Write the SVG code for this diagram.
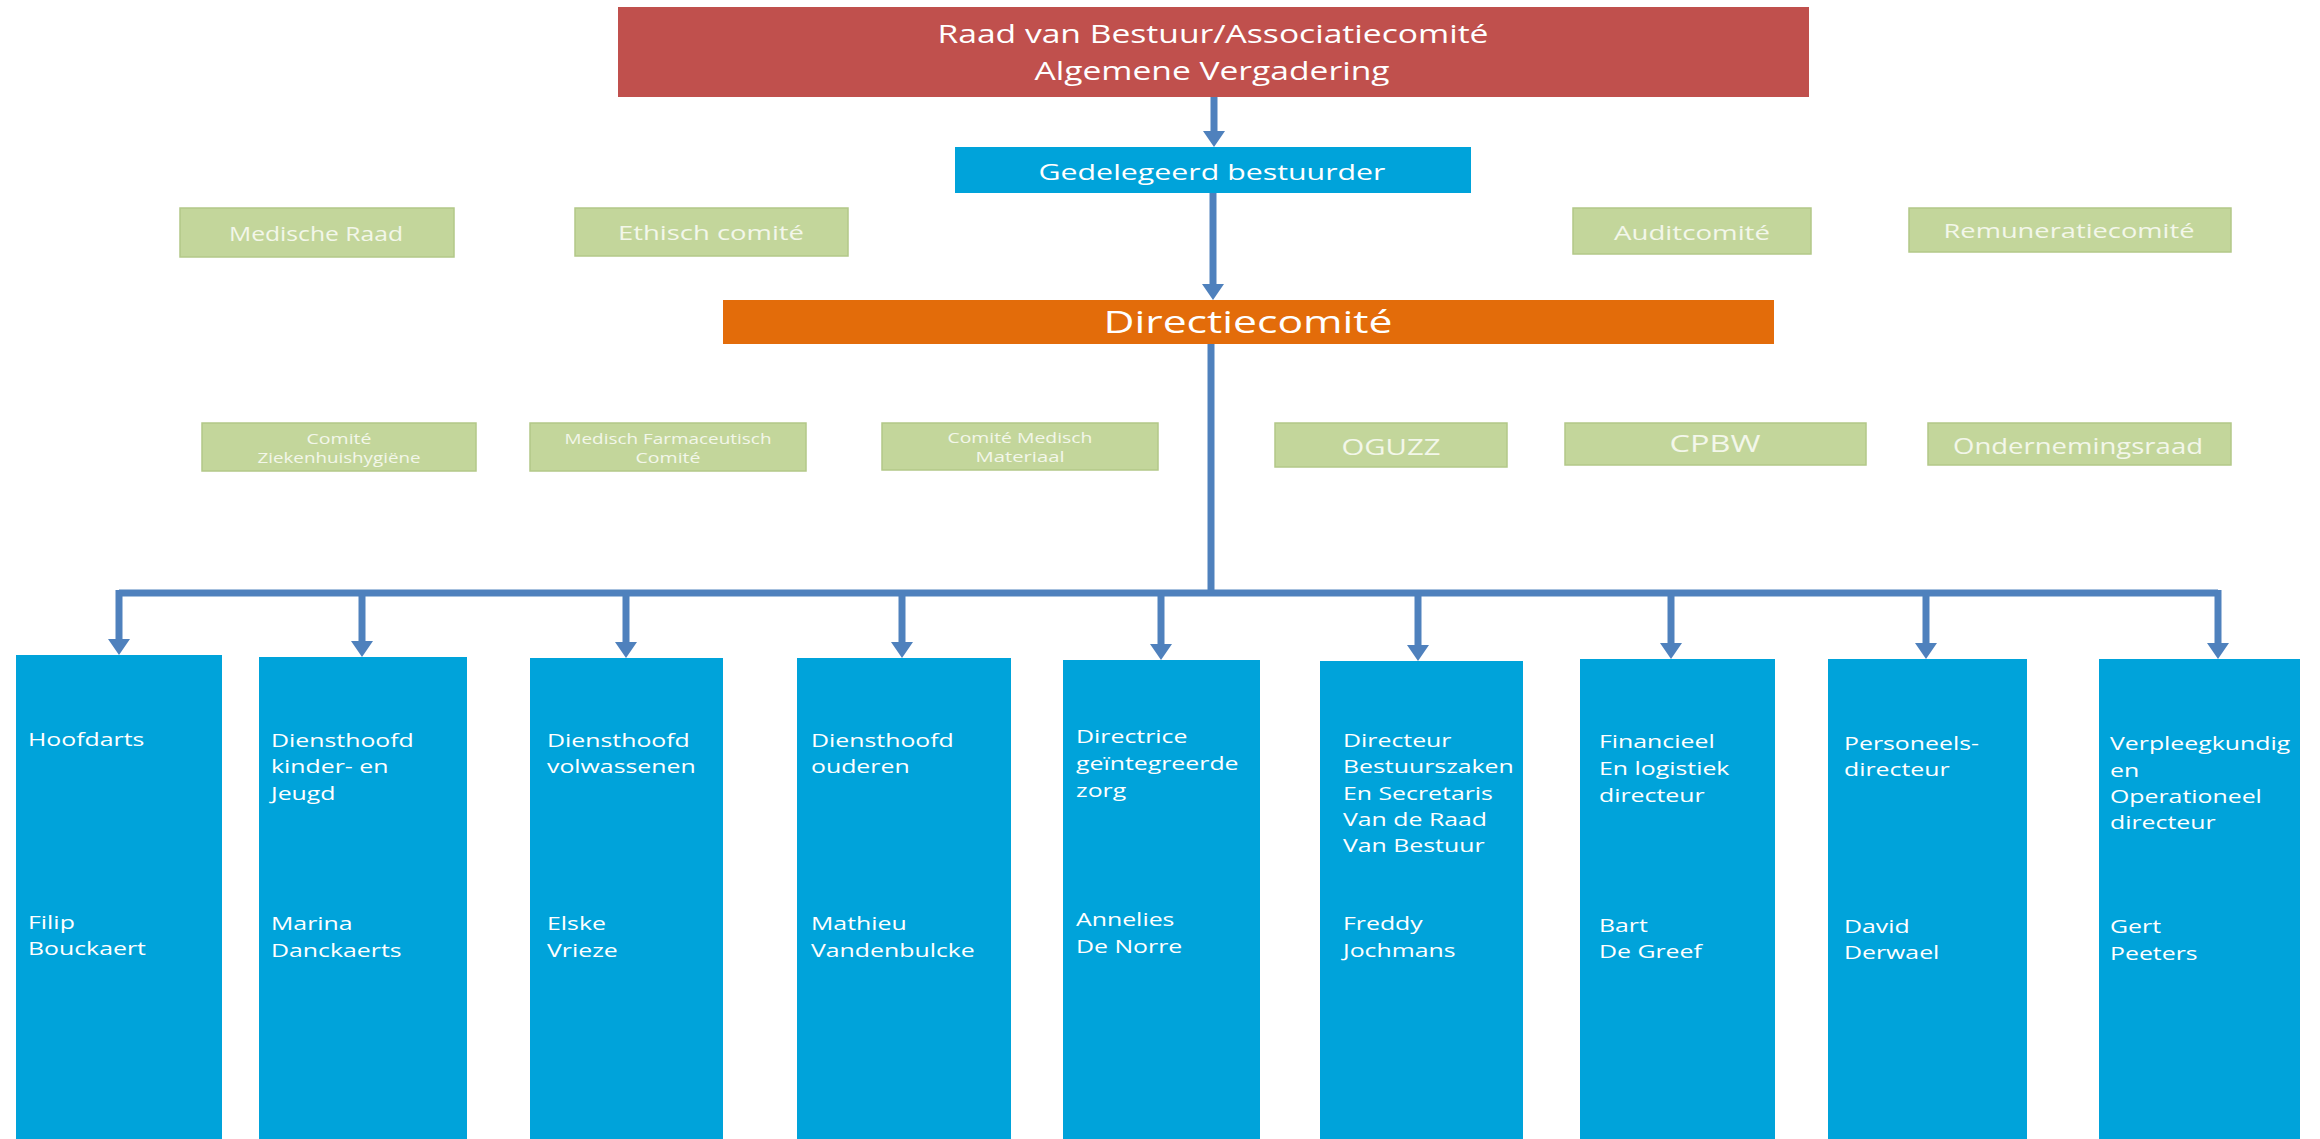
<svg xmlns="http://www.w3.org/2000/svg" width="2320" height="1139" viewBox="0 0 2320 1139">
<style>
  text { font-family: "Open Sans", "Liberation Sans", sans-serif; fill: #ffffff; }
  .red { fill: #C0504D; }
  .blue { fill: #00A3DA; }
  .orange { fill: #E36C0A; }
  .green { fill: #C3D69B; stroke: #B3C888; stroke-width: 1.5; }
  .gtxt { fill: #F3F7EA; text-anchor: middle; }
  .c { text-anchor: middle; }
  .conn { stroke: #4F81BD; stroke-width: 7; fill: none; }
  .btxt { font-size: 18px; }
</style>
<defs>
  <marker id="ah" viewBox="0 0 16 22" refX="0" refY="11" markerWidth="16" markerHeight="22" markerUnits="userSpaceOnUse" orient="auto">
    <path d="M0,0 L16,11 L0,22 z" fill="#4F81BD"/>
  </marker>
</defs>
<rect width="2320" height="1139" fill="#ffffff"/>

<g id="connectors">
  <path class="conn" d="M1214,97 V131" marker-end="url(#ah)"/>
  <path class="conn" d="M1213,193 V284" marker-end="url(#ah)"/>
  <path class="conn" d="M1211,344 V593"/>
  <path class="conn" d="M119,593 H2218"/>
  <path class="conn" d="M119,590 V639" marker-end="url(#ah)"/>
  <path class="conn" d="M362,593 V641" marker-end="url(#ah)"/>
  <path class="conn" d="M626,593 V642" marker-end="url(#ah)"/>
  <path class="conn" d="M902,593 V642" marker-end="url(#ah)"/>
  <path class="conn" d="M1161,593 V644" marker-end="url(#ah)"/>
  <path class="conn" d="M1418,593 V645" marker-end="url(#ah)"/>
  <path class="conn" d="M1671,593 V643" marker-end="url(#ah)"/>
  <path class="conn" d="M1926,593 V643" marker-end="url(#ah)"/>
  <path class="conn" d="M2218,590 V643" marker-end="url(#ah)"/>
</g>

<g id="raad">
  <rect class="red" x="618" y="7" width="1191" height="90"/>
  <text class="c" x="1213" y="43" font-size="25" textLength="551" lengthAdjust="spacingAndGlyphs">Raad van Bestuur/Associatiecomité</text>
  <text class="c" x="1212" y="80" font-size="25" textLength="355" lengthAdjust="spacingAndGlyphs">Algemene Vergadering</text>
</g>

<g id="gedelegeerd">
  <rect class="blue" x="955" y="147" width="516" height="46"/>
  <text class="c" x="1212" y="180" font-size="22" textLength="347" lengthAdjust="spacingAndGlyphs">Gedelegeerd bestuurder</text>
</g>

<g id="directiecomite">
  <rect class="orange" x="723" y="300" width="1051" height="44"/>
  <text class="c" x="1248" y="333" font-size="31" textLength="289" lengthAdjust="spacingAndGlyphs">Directiecomité</text>
</g>

<g id="medische-raad">
  <rect class="green" x="180" y="208" width="274" height="49"/>
  <text class="gtxt" x="316" y="241" font-size="20" textLength="174" lengthAdjust="spacingAndGlyphs">Medische Raad</text>
</g>
<g id="ethisch-comite">
  <rect class="green" x="575" y="208" width="273" height="48"/>
  <text class="gtxt" x="711" y="240" font-size="20" textLength="186" lengthAdjust="spacingAndGlyphs">Ethisch comité</text>
</g>
<g id="auditcomite">
  <rect class="green" x="1573" y="208" width="238" height="46"/>
  <text class="gtxt" x="1692" y="240" font-size="20" textLength="156" lengthAdjust="spacingAndGlyphs">Auditcomité</text>
</g>
<g id="remuneratiecomite">
  <rect class="green" x="1909" y="208" width="322" height="44"/>
  <text class="gtxt" x="2069" y="238" font-size="20" textLength="251" lengthAdjust="spacingAndGlyphs">Remuneratiecomité</text>
</g>

<g id="comite-ziekenhuishygiene">
  <rect class="green" x="202" y="423" width="274" height="48"/>
  <text class="gtxt" x="339" y="444" font-size="14" textLength="65" lengthAdjust="spacingAndGlyphs">Comité</text>
  <text class="gtxt" x="339" y="463" font-size="14" textLength="163" lengthAdjust="spacingAndGlyphs">Ziekenhuishygiëne</text>
</g>
<g id="medisch-farmaceutisch-comite">
  <rect class="green" x="530" y="423" width="276" height="48"/>
  <text class="gtxt" x="668" y="444" font-size="14" textLength="207" lengthAdjust="spacingAndGlyphs">Medisch Farmaceutisch</text>
  <text class="gtxt" x="668" y="463" font-size="14" textLength="65" lengthAdjust="spacingAndGlyphs">Comité</text>
</g>
<g id="comite-medisch-materiaal">
  <rect class="green" x="882" y="423" width="276" height="47"/>
  <text class="gtxt" x="1020" y="443" font-size="14" textLength="145" lengthAdjust="spacingAndGlyphs">Comité Medisch</text>
  <text class="gtxt" x="1020" y="462" font-size="14" textLength="89" lengthAdjust="spacingAndGlyphs">Materiaal</text>
</g>
<g id="oguzz">
  <rect class="green" x="1275" y="423" width="232" height="44"/>
  <text class="gtxt" x="1391" y="455" font-size="22" textLength="99" lengthAdjust="spacingAndGlyphs">OGUZZ</text>
</g>
<g id="cpbw">
  <rect class="green" x="1565" y="423" width="301" height="42"/>
  <text class="gtxt" x="1715" y="452" font-size="23" textLength="91" lengthAdjust="spacingAndGlyphs">CPBW</text>
</g>
<g id="ondernemingsraad">
  <rect class="green" x="1928" y="423" width="303" height="42"/>
  <text class="gtxt" x="2078" y="454" font-size="21" textLength="250" lengthAdjust="spacingAndGlyphs">Ondernemingsraad</text>
</g>

<g id="hoofdarts">
  <rect class="blue" x="16" y="655" width="206" height="490"/>
  <g transform="translate(28,0) scale(1.38,1)"><text class="btxt"><tspan x="0" y="746">Hoofdarts</tspan><tspan x="0" y="929">Filip</tspan><tspan x="0" y="955">Bouckaert</tspan></text></g>
</g>
<g id="diensthoofd-kinder">
  <rect class="blue" x="259" y="657" width="208" height="490"/>
  <g transform="translate(271,0) scale(1.38,1)"><text class="btxt"><tspan x="0" y="747">Diensthoofd</tspan><tspan x="0" y="773">kinder- en</tspan><tspan x="0" y="800">Jeugd</tspan><tspan x="0" y="930">Marina</tspan><tspan x="0" y="957">Danckaerts</tspan></text></g>
</g>
<g id="diensthoofd-volwassenen">
  <rect class="blue" x="530" y="658" width="193" height="490"/>
  <g transform="translate(547,0) scale(1.38,1)"><text class="btxt"><tspan x="0" y="747">Diensthoofd</tspan><tspan x="0" y="773">volwassenen</tspan><tspan x="0" y="930">Elske</tspan><tspan x="0" y="957">Vrieze</tspan></text></g>
</g>
<g id="diensthoofd-ouderen">
  <rect class="blue" x="797" y="658" width="214" height="490"/>
  <g transform="translate(811,0) scale(1.38,1)"><text class="btxt"><tspan x="0" y="747">Diensthoofd</tspan><tspan x="0" y="773">ouderen</tspan><tspan x="0" y="930">Mathieu</tspan><tspan x="0" y="957">Vandenbulcke</tspan></text></g>
</g>
<g id="directrice-zorg">
  <rect class="blue" x="1063" y="660" width="197" height="490"/>
  <g transform="translate(1076,0) scale(1.38,1)"><text class="btxt"><tspan x="0" y="743">Directrice</tspan><tspan x="0" y="770">geïntegreerde</tspan><tspan x="0" y="797">zorg</tspan><tspan x="0" y="926">Annelies</tspan><tspan x="0" y="953">De Norre</tspan></text></g>
</g>
<g id="directeur-bestuurszaken">
  <rect class="blue" x="1320" y="661" width="203" height="490"/>
  <g transform="translate(1343,0) scale(1.38,1)"><text class="btxt"><tspan x="0" y="747">Directeur</tspan><tspan x="0" y="773">Bestuurszaken</tspan><tspan x="0" y="800">En Secretaris</tspan><tspan x="0" y="826">Van de Raad</tspan><tspan x="0" y="852">Van Bestuur</tspan><tspan x="0" y="930">Freddy</tspan><tspan x="0" y="957">Jochmans</tspan></text></g>
</g>
<g id="financieel-directeur">
  <rect class="blue" x="1580" y="659" width="195" height="490"/>
  <g transform="translate(1599,0) scale(1.38,1)"><text class="btxt"><tspan x="0" y="748">Financieel</tspan><tspan x="0" y="775">En logistiek</tspan><tspan x="0" y="802">directeur</tspan><tspan x="0" y="932">Bart</tspan><tspan x="0" y="958">De Greef</tspan></text></g>
</g>
<g id="personeelsdirecteur">
  <rect class="blue" x="1828" y="659" width="199" height="490"/>
  <g transform="translate(1844,0) scale(1.38,1)"><text class="btxt"><tspan x="0" y="750">Personeels-</tspan><tspan x="0" y="776">directeur</tspan><tspan x="0" y="933">David</tspan><tspan x="0" y="959">Derwael</tspan></text></g>
</g>
<g id="verpleegkundig-directeur">
  <rect class="blue" x="2099" y="659" width="201" height="490"/>
  <g transform="translate(2110,0) scale(1.38,1)"><text class="btxt"><tspan x="0" y="750">Verpleegkundig</tspan><tspan x="0" y="777">en</tspan><tspan x="0" y="803">Operationeel</tspan><tspan x="0" y="829">directeur</tspan><tspan x="0" y="933">Gert</tspan><tspan x="0" y="960">Peeters</tspan></text></g>
</g>
</svg>
